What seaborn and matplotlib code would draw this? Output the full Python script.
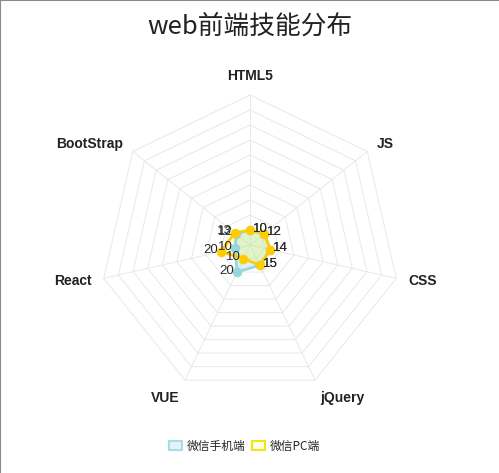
import numpy as np
import pandas as pd
import matplotlib
matplotlib.use("Agg")
import matplotlib.pyplot as plt
from matplotlib.patches import Patch
from matplotlib.lines import Line2D
import seaborn as sns

# chart data
skills = ["HTML5", "JS", "CSS", "jQuery", "VUE", "React", "BootStrap"]
mobile = [10, 12, 14, 15, 20, 10, 12]    # 微信手机端
pc = [10, 12, 14, 15, 10, 20, 13]        # 微信PC端
series_names = ["微信手机端", "微信PC端"]
ring_values = [10, 20, 30, 40, 50, 60, 70, 80, 90, 100]
scale_max = 100

sns.set_theme(style="white")
plt.rcParams['font.family'] = ['Liberation Sans', 'Noto Sans CJK SC', 'DejaVu Sans']
cjk = ['Noto Sans CJK SC', 'DejaVu Sans']

W, H = 499, 473
fig = plt.figure(figsize=(W / 100, H / 100), dpi=100)
ax = fig.add_axes([0, 0, 1, 1])
px = 1.5  # pixels per unit
cx, cy = 250, 245
ax.set_xlim(-cx / px, (W - cx) / px)
ax.set_ylim(-(H - cy) / px, cy / px)
ax.axis('off')

n = len(skills)
theta = np.arange(n) * 2 * np.pi / n


def to_xy(vals):
    vals = np.asarray(vals, dtype=float)
    return vals * np.sin(theta), vals * np.cos(theta)


# grid rings and spokes
grid_col = '#e8e8e8'
for r in ring_values:
    gx, gy = to_xy([r] * n)
    ax.plot(np.append(gx, gx[0]), np.append(gy, gy[0]), color=grid_col, lw=0.7, zorder=1)
ox, oy = to_xy([scale_max] * n)
for i in range(n):
    ax.plot([0, ox[i]], [0, oy[i]], color=grid_col, lw=0.7, zorder=1)

# axis labels
lab_r = scale_max + 12 / px
for i, name in enumerate(skills):
    s, c = np.sin(theta[i]), np.cos(theta[i])
    ha = 'center' if abs(s) < 0.05 else ('left' if s > 0 else 'right')
    if c > 0.95:
        va = 'bottom'
    elif c < -0.8:
        va = 'top'
    else:
        va = 'center'
    ax.text(lab_r * s, lab_r * c, name, ha=ha, va=va, fontsize=10,
            fontweight='bold', color='#222222')

# datasets
styles = [
    dict(line='#96d6df', fill=(0.60, 0.85, 0.89, 0.35), edge='#a8dde4', face='#e4f4f6'),
    dict(line='#ffcc00', fill=(1.0, 1.0, 0.0, 0.18), edge='#e8e81a', face='#fdfde0'),
]
for vals, st in zip([mobile, pc], styles):
    x, y = to_xy(vals)
    ax.fill(x, y, color=st['fill'], zorder=2, lw=0)
    ax.plot(np.append(x, x[0]), np.append(y, y[0]), color=st['line'], lw=2, zorder=3)
    pts = pd.DataFrame({'x': x, 'y': y})
    sns.scatterplot(data=pts, x='x', y='y', ax=ax, color=st['line'], s=40,
                    edgecolor=st['line'], zorder=4, legend=False)

# value labels
for vals in [mobile, pc]:
    x, y = to_xy(vals)
    for i, v in enumerate(vals):
        s = np.sin(theta[i])
        ha = 'left' if s >= -0.05 else 'right'
        dx = 2 if ha == 'left' else -2
        ax.annotate(str(v), (x[i], y[i]), xytext=(dx, 1), textcoords='offset points',
                    ha=ha, va='center', fontsize=9.5, color='#2a2a2a', zorder=5)

# title
fig.text(0.5, 1 - 27 / H, "web前端技能分布", ha='center', va='center',
         fontsize=18.5, family=cjk, fontweight='light', color='#222222')

# legend
handles = [Patch(facecolor=st['face'], edgecolor=st['edge'], lw=1.5) for st in styles]
fig.legend(handles, series_names, loc='center', bbox_to_anchor=(0.49, 1 - 446 / H),
           ncol=2, frameon=False, handlelength=1.1, handleheight=0.9,
           handletextpad=0.4, columnspacing=0.5, prop={'family': cjk, 'size': 8.5})

# frame edges on top and left
fig.add_artist(Line2D([0, 1], [1, 1], transform=fig.transFigure, color='#8a8a8a', lw=1.5))
fig.add_artist(Line2D([0, 0], [0, 1], transform=fig.transFigure, color='#8a8a8a', lw=1.5))

fig.savefig('out.png', dpi=100)
